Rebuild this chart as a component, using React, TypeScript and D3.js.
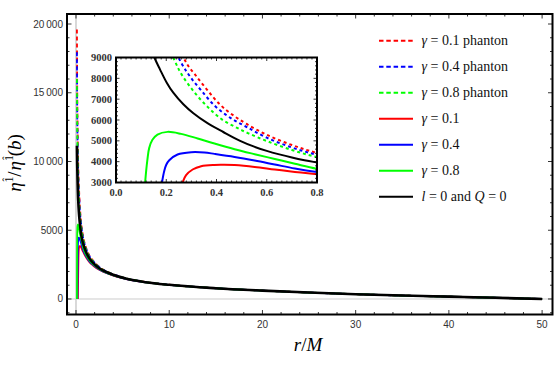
import React from 'react';
import * as d3 from 'd3';

// r/M and eta ratio
const redPhantom: [number, number][] = [
  [0.1, 19600], [0.13, 15500], [0.17, 12800], [0.22, 10500], [0.281, 8720], [0.314, 8190],
  [0.361, 7474], [0.414, 6740], [0.467, 6220], [0.52, 5810], [0.6, 5290], [0.7, 4800],
  [0.8, 4420], [1.0, 3895], [1.4, 3211], [1.86, 2762], [2.5, 2337], [3.64, 1901],
  [5.43, 1493], [7.5, 1232], [10, 1035], [15, 780], [20, 610], [25, 470], [30, 350],
  [35, 250], [40, 170], [45, 90], [50, 0],
];
const bluePhantom: [number, number][] = [
  [0.1, 17940], [0.13, 14000], [0.17, 11600], [0.21, 10000], [0.261, 8720], [0.295, 8080],
  [0.341, 7392], [0.394, 6672], [0.454, 6112], [0.52, 5664], [0.6, 5150], [0.7, 4680],
  [0.8, 4330], [1.0, 3828], [1.4, 3168], [1.86, 2732], [2.5, 2318], [3.64, 1891],
  [5.43, 1489], [7.5, 1229], [10, 1034], [15, 780], [20, 610], [25, 470], [30, 350],
  [35, 250], [40, 170], [45, 90], [50, 0],
];
const greenPhantom: [number, number][] = [
  [0.1, 16000], [0.13, 12800], [0.17, 10700], [0.234, 8832], [0.261, 8190], [0.308, 7392],
  [0.361, 6672], [0.421, 6032], [0.48, 5632], [0.527, 5360], [0.6, 4990], [0.7, 4560],
  [0.8, 4220], [1.0, 3745], [1.4, 3115], [1.86, 2696], [2.5, 2295], [3.64, 1879],
  [5.43, 1483], [7.5, 1227], [10, 1033], [15, 780], [20, 610], [25, 470], [30, 350],
  [35, 250], [40, 170], [45, 90], [50, 0],
];
const redSolid: [number, number][] = [
  [0.2, 0], [0.235, 1800], [0.265, 3000], [0.279, 3350], [0.305, 3624], [0.339, 3782],
  [0.392, 3845], [0.43, 3850], [0.472, 3835], [0.552, 3749], [0.632, 3624], [0.712, 3509],
  [0.8, 3390], [1.0, 3122], [1.4, 2716], [1.86, 2422], [2.5, 2120], [3.64, 1787],
  [5.43, 1441], [7.5, 1206], [10, 1024], [15, 780], [20, 610], [25, 470], [30, 350],
  [35, 250], [40, 170], [45, 90], [50, 0],
];
const blueSolid: [number, number][] = [
  [0.15, 0], [0.168, 1800], [0.183, 3000], [0.192, 3550], [0.2, 3850], [0.212, 4070],
  [0.245, 4344], [0.299, 4454], [0.352, 4440], [0.392, 4374], [0.472, 4229], [0.552, 4056],
  [0.632, 3864], [0.712, 3672], [0.8, 3500], [1.0, 3205], [1.4, 2769], [1.86, 2458],
  [2.5, 2143], [3.64, 1799], [5.43, 1447], [7.5, 1209], [10, 1025], [15, 780], [20, 610],
  [25, 470], [30, 350], [35, 250], [40, 170], [45, 90], [50, 0],
];
const greenSolid: [number, number][] = [
  [0.104, 0], [0.11, 1800], [0.116, 3000], [0.125, 4100], [0.132, 4650], [0.145, 5050],
  [0.165, 5300], [0.205, 5430], [0.259, 5334], [0.325, 5112], [0.392, 4870], [0.472, 4600],
  [0.552, 4360], [0.632, 4130], [0.712, 3900], [0.8, 3660], [1.0, 3325], [1.4, 2846],
  [1.86, 2511], [2.5, 2177], [3.64, 1817], [5.43, 1455], [7.5, 1213], [10, 1027], [15, 780],
  [20, 610], [25, 470], [30, 350], [35, 250], [40, 170], [45, 90], [50, 0],
];
const blackCurve: [number, number][] = [
  [0.1, 11150], [0.125, 9900], [0.155, 8940], [0.175, 8432], [0.202, 7790], [0.228, 7310],
  [0.268, 6754], [0.308, 6320], [0.361, 5870], [0.427, 5424], [0.494, 5000], [0.55, 4720],
  [0.6, 4520], [0.65, 4350], [0.7, 4200], [0.75, 4070], [0.8, 3960], [1.0, 3550],
  [1.4, 2990], [1.86, 2610], [2.5, 2240], [3.64, 1850], [5.43, 1470], [7.5, 1220],
  [10, 1030], [15, 780], [20, 610], [25, 470], [30, 350], [35, 250], [40, 170], [45, 90], [50, 0],
];

const seriesData = [redPhantom, bluePhantom, greenPhantom, redSolid, blueSolid, greenSolid, blackCurve];
const seriesColors = ['#ff0000', '#0000ff', '#00ff00', '#ff0000', '#0000ff', '#00ff00', '#000000'];
const seriesDashed = [true, true, true, false, false, false, false];
const legendLabels = [
  [['γ', true], [' = 0.1 phanton', false]],
  [['γ', true], [' = 0.4 phanton', false]],
  [['γ', true], [' = 0.8 phanton', false]],
  [['γ', true], [' = 0.1', false]],
  [['γ', true], [' = 0.4', false]],
  [['γ', true], [' = 0.8', false]],
  [['l', true], [' = 0 and ', false], ['Q', true], [' = 0', false]],
];

const xTicks = [0, 10, 20, 30, 40, 50];
const yTicks = [0, 5000, 10000, 15000, 20000];
const insetXTicks = [0, 0.2, 0.4, 0.6, 0.8];
const insetYTicks = [3000, 4000, 5000, 6000, 7000, 8000, 9000];

const serif = '"Liberation Serif", "Times New Roman", serif';
const sans = '"Liberation Sans", Arial, sans-serif';

// plot frame
const frame = { left: 67, right: 552.5, top: 14, bottom: 314.5 };
const inset = { left: 116, right: 317, top: 57.5, bottom: 182.5 };

const x = d3.scaleLinear().domain([-0.965, 51.115]).range([frame.left, frame.right]);
const y = d3.scaleLinear().domain([-1128, 20728]).range([frame.bottom, frame.top]);
const xi = d3.scaleLinear().domain([0, 0.8]).range([inset.left, inset.right]);
const yi = d3.scaleLinear().domain([3000, 9000]).range([inset.bottom, inset.top]);

const fmtMain = (v: number) => (v >= 10000 ? d3.format(',')(v).replace(/,/g, '\u2009') : String(v));

const range = (a: number, b: number, s: number) => d3.range(a, b + s / 2, s).map(v => +v.toFixed(6));

function Ticks({ xs, ys, xMinor, yMinor, sx, sy, box, major, minor }: any) {
  const lines: any[] = [];
  const add = (x1: number, y1: number, x2: number, y2: number, k: string) =>
    lines.push(<line key={k} x1={x1} y1={y1} x2={x2} y2={y2} stroke="#000" strokeWidth={0.8} />);
  xMinor.forEach((v: number, i: number) => {
    const len = xs.some((t: number) => Math.abs(t - v) < 1e-9) ? major : minor;
    const px = sx(v);
    if (px < box.left || px > box.right) return;
    add(px, box.bottom, px, box.bottom - len, 'xb' + i);
    add(px, box.top, px, box.top + len, 'xt' + i);
  });
  yMinor.forEach((v: number, i: number) => {
    const len = ys.some((t: number) => Math.abs(t - v) < 1e-9) ? major : minor;
    const py = sy(v);
    if (py < box.top || py > box.bottom) return;
    add(box.left, py, box.left + len, py, 'yl' + i);
    add(box.right, py, box.right - len, py, 'yr' + i);
  });
  return <g>{lines}</g>;
}

export default function App() {
  const lineMain = d3.line<[number, number]>().x(d => x(d[0])).y(d => y(d[1])).curve(d3.curveMonotoneX);
  const lineInset = d3.line<[number, number]>().x(d => xi(d[0])).y(d => yi(d[1])).curve(d3.curveCatmullRom.alpha(0.5));

  return (
    <svg width={556} height={371} style={{ position: 'absolute', left: 0, top: 0, background: '#fff' }}>
      <defs>
        <clipPath id="mainClip">
          <rect x={frame.left} y={frame.top} width={frame.right - frame.left} height={frame.bottom - frame.top} />
        </clipPath>
        <clipPath id="insetClip">
          <rect x={inset.left} y={inset.top} width={inset.right - inset.left} height={inset.bottom - inset.top} />
        </clipPath>
      </defs>
      <rect x={0} y={0} width={556} height={371} fill="#fff" />

      {/* main plot */}
      <g clipPath="url(#mainClip)">
        <line x1={frame.left} x2={frame.right} y1={y(0)} y2={y(0)} stroke="#cccccc" strokeWidth={1} />
        <line x1={x(0)} x2={x(0)} y1={frame.top} y2={frame.bottom} stroke="#cccccc" strokeWidth={1.5} />
        {seriesData.map((d, i) => (
          <path key={i} d={lineMain(d) || ''} fill="none" stroke={seriesColors[i]}
            strokeWidth={i === 6 ? 2.6 : 1.8} strokeDasharray={seriesDashed[i] ? '4,3' : undefined} />
        ))}
      </g>
      <rect x={frame.left} y={frame.top} width={frame.right - frame.left} height={frame.bottom - frame.top}
        fill="none" stroke="#000" strokeWidth={2} />
      <Ticks xs={xTicks} ys={yTicks} xMinor={range(0, 50, 2)} yMinor={range(-1000, 20000, 1000)}
        sx={x} sy={y} box={frame} major={4.5} minor={2.5} />
      {xTicks.map(t => (
        <text key={t} x={x(t)} y={327.5} textAnchor="middle" fontFamily={sans} fontSize={10} fill="#333">{t}</text>
      ))}
      {yTicks.map(t => (
        <text key={t} x={63} y={y(t) + 3.5} textAnchor="end" fontFamily={sans} fontSize={10} fill="#333">{fmtMain(t)}</text>
      ))}
      <text x={308} y={351} textAnchor="middle" fontFamily={serif} fontSize={19}>
        <tspan fontStyle="italic">r</tspan>/<tspan fontStyle="italic">M</tspan>
      </text>
      <text transform="translate(21,163) rotate(-90)" textAnchor="middle" fontFamily={serif} fontSize={19}>
        <tspan fontStyle="italic">η</tspan>
        <tspan dy={-8} fontSize={12}>1</tspan>
        <tspan dx={-5} dy={-3} fontSize={11}>ˆ</tspan>
        <tspan dx={1} dy={11}>/</tspan>
        <tspan fontStyle="italic" dx={1}>η</tspan>
        <tspan dy={-8} fontSize={12}>1</tspan>
        <tspan dx={-5} dy={-3} fontSize={11}>ˆ</tspan>
        <tspan dy={11}>(</tspan>
        <tspan fontStyle="italic">b</tspan>
        <tspan>)</tspan>
      </text>

      {/* inset */}
      <rect x={inset.left} y={inset.top} width={inset.right - inset.left} height={inset.bottom - inset.top} fill="#fff" />
      <g clipPath="url(#insetClip)">
        {seriesData.map((d, i) => (
          <path key={i} d={lineInset(d) || ''} fill="none" stroke={seriesColors[i]}
            strokeWidth={2} strokeDasharray={seriesDashed[i] ? '3,3' : undefined} />
        ))}
      </g>
      <rect x={inset.left} y={inset.top} width={inset.right - inset.left} height={inset.bottom - inset.top}
        fill="none" stroke="#000" strokeWidth={2} />
      <Ticks xs={insetXTicks} ys={insetYTicks} xMinor={range(0, 0.8, 0.02)} yMinor={range(3000, 9000, 200)}
        sx={xi} sy={yi} box={inset} major={3.5} minor={2} />
      {insetXTicks.map(t => (
        <text key={t} x={xi(t)} y={195.5} textAnchor="middle" fontFamily={serif} fontSize={10.5} fontWeight="bold" fill="#333">{t.toFixed(1)}</text>
      ))}
      {insetYTicks.map(t => (
        <text key={t} x={112} y={yi(t) + 3.5} textAnchor="end" fontFamily={serif} fontSize={10.5} fontWeight="bold" fill="#333">{t}</text>
      ))}

      {/* legend */}
      {legendLabels.map((parts, i) => {
        const cy = 40.7 + i * 26;
        return (
          <g key={i}>
            <line x1={379} x2={413} y1={cy} y2={cy} stroke={seriesColors[i]} strokeWidth={2}
              strokeDasharray={seriesDashed[i] ? '4.5,2.8' : undefined} />
            <text x={421.5} y={cy + 4.5} fontFamily={serif} fontSize={14} fill="#111">
              {parts.map((p, j) => (
                <tspan key={j} fontStyle={p[1] ? 'italic' : 'normal'}>{p[0] as string}</tspan>
              ))}
            </text>
          </g>
        );
      })}
    </svg>
  );
}
